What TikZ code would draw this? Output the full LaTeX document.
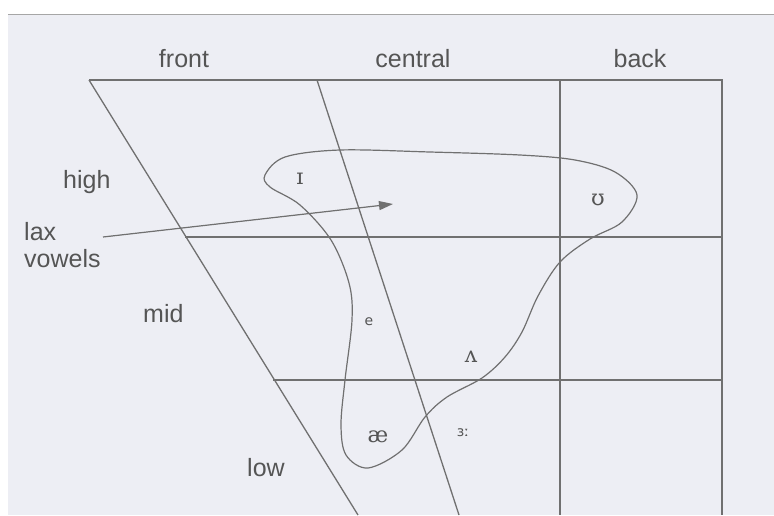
\documentclass[tikz,border=0pt]{standalone}
\usepackage{fontspec}
\setmainfont{Liberation Sans}
\newfontfamily\ipaserif{DejaVu Serif}
\newfontfamily\ipasans{DejaVu Sans}
\usetikzlibrary{arrows.meta}
\definecolor{paper}{HTML}{EDEEF4}
\definecolor{ink}{HTML}{707070}
\definecolor{txt}{HTML}{555555}
\begin{document}
\begin{tikzpicture}[x=1pt,y=-1pt,
  lbl/.style={font=\fontsize{25}{28}\selectfont, text=txt, inner sep=0pt, anchor=base},
  vow/.style={font=\ipaserif\fontsize{22}{24}\selectfont, text=txt, inner sep=0pt},
  vows/.style={font=\ipasans\fontsize{14}{16}\selectfont, text=txt, inner sep=0pt},
  gridline/.style={draw=ink, line width=1.3pt},
  region/.style={draw=ink, line width=1.2pt},
  pointer/.style={draw=ink, line width=1.2pt, -{Triangle[length=14pt,width=9pt]}, fill=ink}
]
\useasboundingbox (0,0) rectangle (774,515);
\fill[white] (0,0) rectangle (774,515);
\fill[paper] (8,14) rectangle (774,515);
\draw[gray!70, line width=1pt] (8,14) -- (774,14);

% frame coordinates
\coordinate (tl) at (89,80);
\coordinate (tc) at (317,80);
\coordinate (tb) at (560,80);
\coordinate (tr) at (722,80);
\coordinate (bl) at (358,515);
\coordinate (bc) at (459,515);
\coordinate (bb) at (560,515);
\coordinate (br) at (722,515);
\coordinate (h1) at (185,237);
\coordinate (h2) at (722,237);
\coordinate (m1) at (273,380);
\coordinate (m2) at (722,380);

\draw[gridline] (tl) -- (tr) -- (br);
\draw[gridline] (tl) -- (bl);
\draw[gridline] (tc) -- (bc);
\draw[gridline] (tb) -- (bb);
\draw[gridline] (h1) -- (h2);
\draw[gridline] (m1) -- (m2);

% lax vowel region
\draw[region] plot[smooth cycle, tension=0.55] coordinates {
  (265,175) (285,157) (340,150) (430,152) (520,155) (575,160) (615,172)
  (637,195) (622,222) (590,239) (560,262) (538,296) (522,332) (505,357)
  (482,378) (447,397) (425,417) (402,450) (368,468) (346,455) (341,425)
  (345,380) (352,320) (349,283) (331,240) (300,205) (270,187)};

% labels
\node[lbl] (front) at (184,67) {front};
\node[lbl] (central) at (413,67) {central};
\node[lbl] (back) at (640,67) {back};
\node[lbl, anchor=base west] (high) at (63,188) {high};
\node[lbl, anchor=base west] (lax) at (24,240) {lax};
\node[lbl, anchor=base west] (vowels) at (24,267) {vowels};
\node[lbl, anchor=base west] (mid) at (143,322) {mid};
\node[lbl, anchor=base west] (low) at (247,476) {low};

% vowels
\node[vow] (v1) at (300,179) {ɪ};
\node[vow] (v2) at (598,200) {ʊ};
\node[vows] (v3) at (369,322) {e};
\node[vow] (v4) at (471,357) {ʌ};
\node[vow] (v5) at (378,437) {æ};
\node[vows] (v6) at (463,433) {ɜː};

% arrow
\coordinate (astart) at (103,237);
\coordinate (aend) at (393,204);
\draw[pointer] (astart) -- (aend);
\end{tikzpicture}
\end{document}
